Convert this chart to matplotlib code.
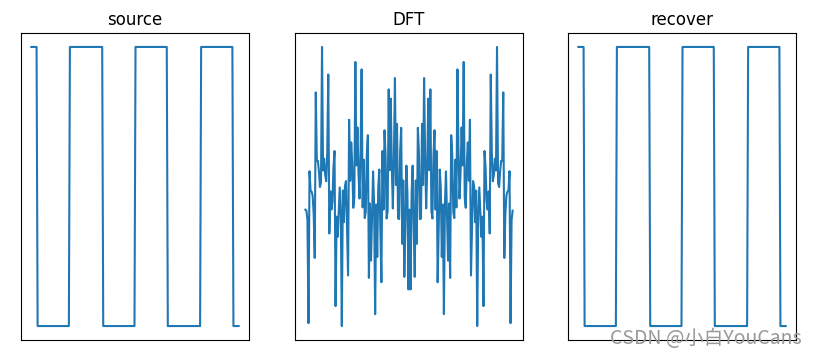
import matplotlib
matplotlib.use("Agg")
import matplotlib.pyplot as plt

titles = ["source", "DFT", "recover"]

# square-wave signal (200 samples)
source = [
    1, 1, 1, 1, 1, 1,
    -1, -1, -1, -1, -1, -1, -1, -1, -1, -1,
    -1, -1, -1, -1, -1, -1, -1, -1, -1, -1,
    -1, -1, -1, -1, -1, -1, -1, -1, -1, -1,
    -1,
    1, 1, 1, 1, 1, 1, 1, 1, 1, 1,
    1, 1, 1, 1, 1, 1, 1, 1, 1, 1,
    1, 1, 1, 1, 1, 1, 1, 1, 1, 1,
    1, 1,
    -1, -1, -1, -1, -1, -1, -1, -1, -1, -1,
    -1, -1, -1, -1, -1, -1, -1, -1, -1, -1,
    -1, -1, -1, -1, -1, -1, -1, -1, -1, -1,
    -1,
    1, 1, 1, 1, 1, 1, 1, 1, 1, 1,
    1, 1, 1, 1, 1, 1, 1, 1, 1, 1,
    1, 1, 1, 1, 1, 1, 1, 1, 1, 1,
    1,
    -1, -1, -1, -1, -1, -1, -1, -1, -1, -1,
    -1, -1, -1, -1, -1, -1, -1, -1, -1, -1,
    -1, -1, -1, -1, -1, -1, -1, -1, -1, -1,
    -1, -1,
    1, 1, 1, 1, 1, 1, 1, 1, 1, 1,
    1, 1, 1, 1, 1, 1, 1, 1, 1, 1,
    1, 1, 1, 1, 1, 1, 1, 1, 1, 1,
    1,
    -1, -1, -1, -1, -1, -1,
]

# real part of the DFT (200 bins)
dft_real = [
    0.00, -0.05, -0.49, -5.52, 1.87, 0.92, 0.88, 0.67, -0.24, -2.35,
    5.70, 2.36, 2.37, 1.88, 1.10, 1.31, 7.91, 1.90, 2.48, 1.70,
    1.38, 2.81, 6.57, -1.16, 0.89, 0.00, 0.40, 2.06, 2.85, -4.69,
    -0.34, -1.32, -0.12, 1.08, -0.23, -5.66, 0.93, -0.61, 1.15, 1.39,
    -0.85, -3.20, 4.37, 1.40, 3.27, 2.24, 0.09, 0.57, 7.18, 2.15,
    4.00, 1.78, 0.54, 2.80, 6.82, 0.11, 2.43, -0.41, -0.12, 2.70,
    3.62, -3.32, 0.30, -2.48, -0.43, 1.86, 0.26, -5.08, 0.25, -2.30,
    1.11, 1.95, -0.99, -3.53, 2.85, 0.00, 3.86, 2.63, -0.43, -0.07,
    5.85, 1.92, 5.40, 2.09, 0.06, 2.50, 6.40, 1.20, 4.17, -0.43,
    -0.46, 2.85, 3.98, -1.66, 1.42, -3.27, -0.79, 2.14, 0.77, -3.88,
    0.00, -3.88, 0.77, 2.14, -0.79, -3.27, 1.42, -1.66, 3.98, 2.85,
    -0.46, -0.43, 4.17, 1.20, 6.40, 2.50, 0.06, 2.09, 5.40, 1.92,
    5.85, -0.07, -0.43, 2.63, 3.86, 0.00, 2.85, -3.53, -0.99, 1.95,
    1.11, -2.30, 0.25, -5.08, 0.26, 1.86, -0.43, -2.48, 0.30, -3.32,
    3.62, 2.70, -0.12, -0.41, 2.43, 0.11, 6.82, 2.80, 0.54, 1.78,
    4.00, 2.15, 7.18, 0.57, 0.09, 2.24, 3.27, 1.40, 4.37, -3.20,
    -0.85, 1.39, 1.15, -0.61, 0.93, -5.66, -0.23, 1.08, -0.12, -1.32,
    -0.34, -4.69, 2.85, 2.06, 0.40, 0.00, 0.89, -1.16, 6.57, 2.81,
    1.38, 1.70, 2.48, 1.90, 7.91, 1.31, 1.10, 1.88, 2.37, 2.36,
    5.70, -2.35, -0.24, 0.67, 0.88, 0.92, 1.87, -5.52, -0.49, -0.05,
]

# recovered signal (inverse DFT)
recovered = list(source)

W, H = 818, 358
fig = plt.figure(figsize=(W / 100, H / 100), dpi=100)
lefts = [21, 295, 568]
axw, axh, axb = 228, 307, 18
series = [source, dft_real, recovered]
for left, title, data in zip(lefts, titles, series):
    ax = fig.add_axes([left / W, axb / H, axw / W, axh / H])
    ax.plot(data, color="#1f77b4", linewidth=1.5)
    ax.set_title(title, fontsize=12)
    ax.set_xticks([])
    ax.set_yticks([])

fig.text(802 / W, 1 - 339 / H, "CSDN @小白YouCans", ha="right", va="center",
         fontsize=14, color="#999999",
         family=["Noto Sans CJK SC", "DejaVu Sans"])

fig.savefig("out.png", dpi=100)
